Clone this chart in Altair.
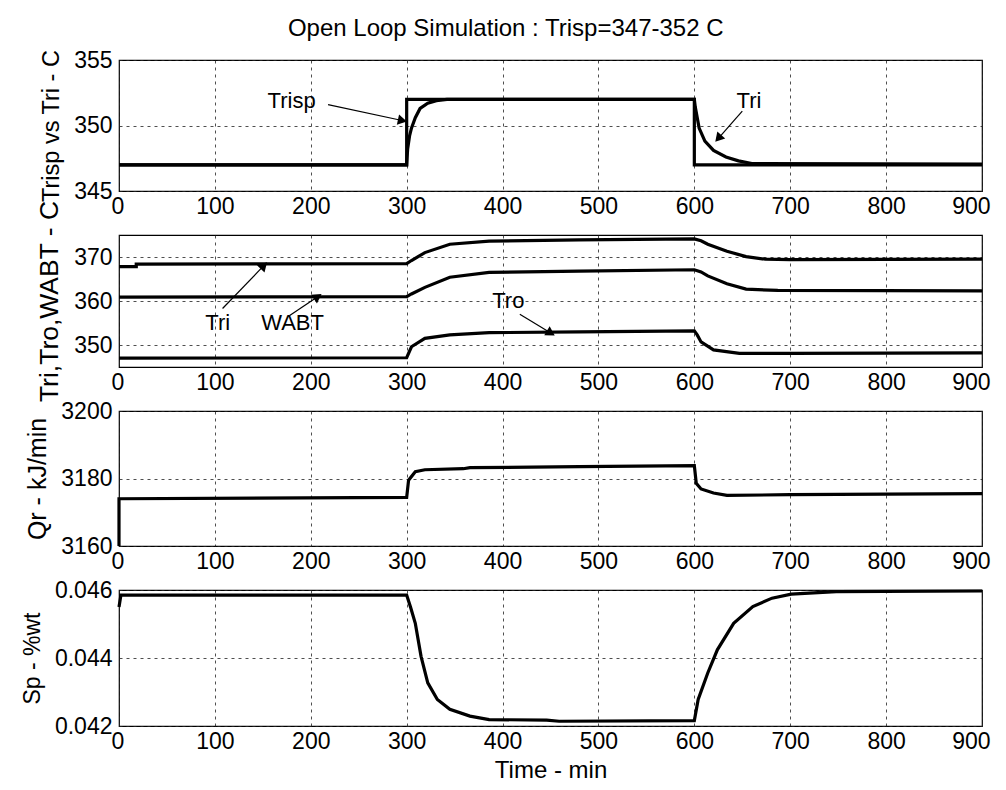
import math
import altair as alt
import pandas as pd

FONT = "Liberation Sans"

# ---------------- data ----------------
# Panel 1: Trisp vs Tri
trisp_t = [0, 300, 300, 600, 600, 900]
trisp_v = [347, 347, 352, 352, 347, 347]
tri1_t = [0, 300, 301, 303, 305, 309, 314, 322, 331, 342, 360, 600, 601, 605, 611, 620, 633, 646, 660, 900]
tri1_v = [347, 347, 348.2, 349.2, 349.8, 350.6, 351.3, 351.7, 351.9, 352.0, 352.0, 352.0,
          351.4, 349.8, 348.8, 348.1, 347.6, 347.3, 347.1, 347.05]

# Panel 2: Tri, WABT, Tro
tri2_t = [0, 18, 18, 300, 305, 319, 345, 386, 480, 600, 607, 614, 634, 654, 674, 700, 900]
tri2_v = [367.8, 367.8, 368.4, 368.5, 369.2, 371.0, 372.9, 373.6, 373.9, 374.1, 373.7, 372.9,
          371.3, 370.1, 369.5, 369.4, 369.5]
wabt_t = [0, 300, 305, 319, 345, 386, 480, 600, 607, 614, 634, 654, 687, 900]
wabt_v = [360.9, 361.0, 361.6, 363.1, 365.4, 366.5, 366.8, 367.1, 366.6, 365.7, 363.9, 362.7, 362.4, 362.3]
tro_t = [0, 300, 305, 319, 345, 386, 480, 600, 603, 607, 620, 647, 700, 900]
tro_v = [347.0, 347.1, 349.6, 351.5, 352.3, 352.8, 353.0, 353.2, 352.3, 350.7, 348.9, 348.1, 348.1, 348.2]

# Panel 3: Qr
qr_t = [0, 0, 300, 302, 309, 319, 359, 366, 480, 600, 602, 607, 620, 634, 700, 900]
qr_v = [3160, 3174.0, 3174.4, 3179.5, 3182.0, 3182.6, 3182.9, 3183.2, 3183.5, 3183.8,
        3178.6, 3176.9, 3175.7, 3175.0, 3175.2, 3175.5]

# Panel 4: Sp
sp_t = [0, 2, 300, 304, 309, 315, 322, 332, 345, 366, 386, 446, 459, 600, 604, 614, 624,
        641, 661, 681, 701, 748, 900]
sp_v = [0.0455, 0.04585, 0.04585, 0.0455, 0.04502, 0.04405, 0.04327, 0.04278, 0.04249,
        0.04229, 0.04219, 0.04217, 0.04214, 0.04216, 0.04278, 0.04356, 0.04424, 0.04502,
        0.04551, 0.04576, 0.04588, 0.04595, 0.04597]

x_ticks = [0, 100, 200, 300, 400, 500, 600, 700, 800, 900]

# annotations: label, text x, text y, arrow start x, y, arrow end x, y
ann1 = [("Trisp", 180, 351.9, 218, 351.6, 294, 350.4),
        ("Tri", 657, 351.9, 650, 351.1, 626, 349.1)]
ann2 = [("Tri", 103, 355.0, 108, 358.3, 150, 367.8),
        ("WABT", 181, 354.9, 178, 356.7, 206, 360.8),
        ("Tro", 406, 360.1, 418, 357.0, 449, 352.9)]

TITLE = "Open Loop Simulation : Trisp=347-352 C"
W = 863


def series_df(pairs):
    rows = []
    for name, ts, vs in pairs:
        for i, (t, v) in enumerate(zip(ts, vs)):
            rows.append({"s": name, "i": i, "t": t, "v": v})
    return pd.DataFrame(rows)


def panel(pairs, ydom, yvals, yfmt, ytitle, h, ytitle_size, ann=None, last=False):
    xax = alt.Axis(values=x_ticks, format="d", labelFlush=True, labelFlushOffset=8,
                   labelPadding=4,
                   title="Time - min" if last else None, titlePadding=5, titleFontSize=24)
    yax = alt.Axis(values=yvals, format=yfmt, labelPadding=7, title=ytitle,
                   titleFontSize=ytitle_size, titlePadding=10)
    xs = alt.Scale(domain=[0, 900], nice=False, zero=False)
    ys = alt.Scale(domain=ydom, nice=False, zero=False)

    def X(f):
        return alt.X(f, type="quantitative", scale=xs, axis=xax)

    def Y(f):
        return alt.Y(f, type="quantitative", scale=ys, axis=yax)

    df = series_df(pairs)
    layers = [alt.Chart(df).mark_line(color="black", strokeWidth=3.2, strokeJoin="miter").encode(
        x=X("t"), y=Y("v"), detail="s:N", order="i:Q")]
    if ann:
        ypx = h / (ydom[1] - ydom[0])
        xpx = W / 900.0
        rows = []
        for lab, tx, ty, x1, y1, x2, y2 in ann:
            ang = math.degrees(math.atan2((x2 - x1) * xpx, (y2 - y1) * ypx)) % 360
            rows.append({"lab": lab, "tx": tx, "ty": ty, "x1": x1, "y1": y1,
                         "x2": x2, "y2": y2, "ang": ang})
        adf = pd.DataFrame(rows)
        base = alt.Chart(adf)
        layers.append(base.mark_text(font=FONT, fontSize=22, color="black").encode(
            x=X("tx"), y=Y("ty"), text="lab:N"))
        layers.append(base.mark_rule(color="black", strokeWidth=1.2).encode(
            x=X("x1"), y=Y("y1"), x2="x2:Q", y2="y2:Q"))
        layers.append(base.mark_point(shape="triangle", filled=True, size=110, color="black",
                                      opacity=1).encode(
            x=X("x2"), y=Y("y2"), angle=alt.Angle("ang:Q", scale=None)))
    return alt.layer(*layers).properties(width=W, height=h)


p1 = panel([("Trisp", trisp_t, trisp_v), ("Tri", tri1_t, tri1_v)], [345, 355], [345, 350, 355],
           "d", "Trisp vs Tri - C", 131, 23.5, ann1)
p2 = panel([("Tri", tri2_t, tri2_v), ("WABT", wabt_t, wabt_v), ("Tro", tro_t, tro_v)],
           [345, 375], [350, 360, 370], "d", "Tri,Tro,WABT - C", 132, 26.5, ann2)
p3 = panel([("Qr", qr_t, qr_v)], [3160, 3200], [3160, 3180, 3200], "d", "Qr - kJ/min", 135, 25)
p4 = panel([("Sp", sp_t, sp_v)], [0.042, 0.046], [0.042, 0.044, 0.046], ".3f", "Sp - %wt", 136, 23,
           last=True)

chart = alt.vconcat(p1, p2, p3, p4, spacing=44, bounds="flush").properties(
    title=alt.TitleParams(TITLE, font=FONT, fontSize=24, fontWeight="normal", color="black",
                          anchor="middle", offset=7),
    padding={"left": 12, "top": 9, "right": 2, "bottom": 0},
    background="white",
).configure_view(stroke="black", strokeWidth=1.2).configure_axis(
    grid=True, gridColor="#222222", gridDash=[3, 4], gridWidth=0.8, gridOpacity=1,
    domain=False, ticks=False,
    labelFont=FONT, labelFontSize=23, labelColor="black",
    titleFont=FONT, titleFontSize=23, titleFontWeight="normal", titleColor="black",
)

chart.save("out.html", embed_options={"renderer": "svg", "actions": False})
